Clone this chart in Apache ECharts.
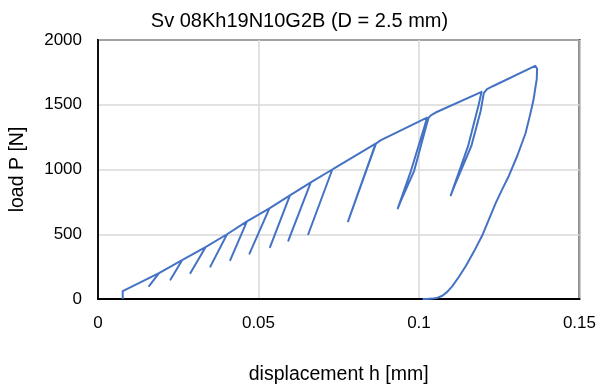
<!DOCTYPE html>
<html>
<head>
<meta charset="utf-8">
<script src="https://cdn.jsdelivr.net/npm/echarts@6/dist/echarts.min.js"></script>
<style>html,body{margin:0;padding:0;background:#fff}#c{width:599px;height:390px}</style>
</head>
<body>
<div id="c"></div>
<script>
// Path of the test: displacement h [mm] and load P [N], in recorded order
const displacement = [
  0.0077, 0.0077, 0.0190, 0.0159, 0.0190,
  0.0262, 0.0226, 0.0262,
  0.0335, 0.0288, 0.0335,
  0.0402, 0.0350, 0.0402,
  0.0464, 0.0412, 0.0464,
  0.0534, 0.0472, 0.0534,
  0.0598, 0.0536, 0.0598,
  0.0663, 0.0593, 0.0663,
  0.0730, 0.0655, 0.0730, 0.0737,
  0.0865, 0.0779, 0.0866, 0.0872, 0.0880,
  0.1025, 0.1017, 0.0975, 0.0934, 0.0944, 0.0985, 0.1022, 0.1030, 0.1038, 0.1052,
  0.1195, 0.1186, 0.1153, 0.1099, 0.1110, 0.1163, 0.1192, 0.1202, 0.1212, 0.1230,
  0.1362, 0.1368, 0.1367, 0.1362, 0.1357, 0.1346, 0.1332, 0.1307, 0.1280, 0.1260,
  0.1239, 0.1218, 0.1197, 0.1172, 0.1146, 0.1124, 0.1104, 0.1088, 0.1073, 0.1058,
  0.1042, 0.1025, 0.1011
];
const load = [
  0, 60, 200, 100, 200,
  300, 150, 300,
  400, 200, 400,
  500, 250, 500,
  600, 300, 600,
  700, 350, 700,
  800, 400, 800,
  900, 450, 900,
  1000, 500, 1000, 1010,
  1200, 600, 1200, 1213, 1225,
  1400, 1330, 990, 700, 760, 990, 1330, 1400, 1420, 1440,
  1600, 1500, 1180, 800, 870, 1180, 1450, 1590, 1620, 1643,
  1800, 1780, 1700, 1620, 1540, 1420, 1280, 1110, 950, 850,
  740, 615, 490, 370, 255, 170, 100, 55, 25, 10,
  3, 0, 0
];
const xTicks = [0, 0.05, 0.1, 0.15];
const yTicks = [0, 500, 1000, 1500, 2000];

const pts = displacement.map((h, i) => [h, load[i]]);
const font = 'Liberation Sans';
const chart = echarts.init(document.getElementById('c'));
chart.setOption({
  animation: false,
  title: {
    text: 'Sv 08Kh19N10G2B (D = 2.5 mm)',
    left: 'center', top: 6,
    textStyle: {fontFamily: font, fontSize: 20, fontWeight: 'normal', color: '#000'}
  },
  grid: {left: 97, top: 40, right: 18, bottom: 90, show: true, borderColor: '#000', borderWidth: 1.8},
  xAxis: {
    type: 'value', min: 0, max: 0.15, interval: 0.05,
    name: 'displacement h [mm]', nameLocation: 'middle', nameGap: 66,
    nameTextStyle: {fontFamily: font, fontSize: 19.5, color: '#000'},
    axisLine: {show: true, lineStyle: {color: '#000', width: 1.8}},
    axisTick: {show: false},
    axisLabel: {fontFamily: font, fontSize: 17, color: '#000', margin: 16,
      formatter: v => xTicks.includes(+v.toFixed(3)) ? String(+v.toFixed(3)) : ''},
    splitLine: {show: true, lineStyle: {color: '#d9d9d9', width: 1.5}}
  },
  yAxis: {
    type: 'value', min: 0, max: 2000, interval: 500,
    name: 'load P [N]', nameLocation: 'middle', nameGap: 70, nameRotate: 90,
    nameTextStyle: {fontFamily: font, fontSize: 19.5, color: '#000'},
    axisLine: {show: true, lineStyle: {color: '#000', width: 1.8}},
    axisTick: {show: false},
    axisLabel: {fontFamily: font, fontSize: 17, color: '#000', margin: 16,
      formatter: v => yTicks.includes(v) ? String(v) : ''},
    splitLine: {show: true, lineStyle: {color: '#d9d9d9', width: 1.5}}
  },
  series: [{
    type: 'line', data: pts, showSymbol: false, smooth: false,
    lineStyle: {color: '#4472C4', width: 2, join: 'round'}
  }]
});
</script>
</body>
</html>
